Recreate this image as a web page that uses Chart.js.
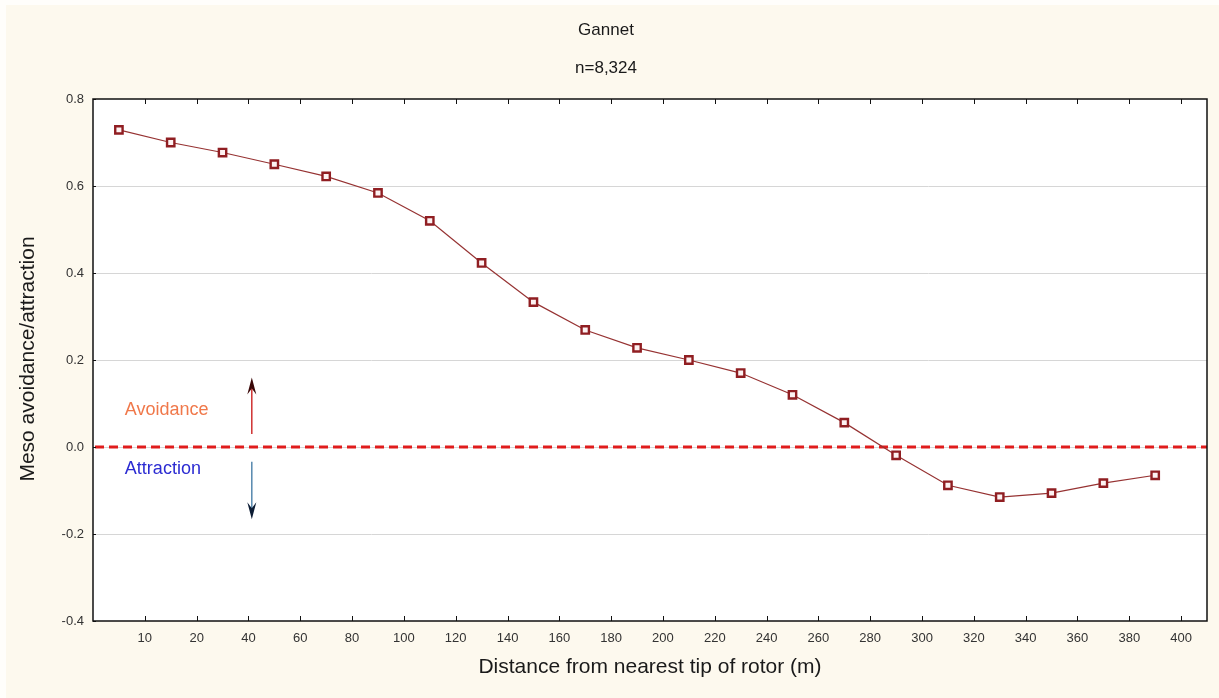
<!DOCTYPE html>
<html>
<head>
<meta charset="utf-8">
<style>
  html, body { margin: 0; padding: 0; background: #fffefb; }
  #wrap { position: relative; width: 1219px; height: 698px; }
  canvas { display: block; }
</style>
<script src="https://cdn.jsdelivr.net/npm/chart.js@4/dist/chart.umd.min.js"></script>
</head>
<body>
<div id="wrap"><canvas id="chart" width="1219" height="698"></canvas></div>
<script>
// Distance bins (m), placed on the linear x scale
const distances = [-10, 10, 30, 50, 70, 90, 110, 130, 150, 170, 190, 210, 230, 250, 270, 290, 310, 330, 350, 370, 390];
// Meso avoidance/attraction index per bin
const mesoIndex = [0.729, 0.700, 0.677, 0.650, 0.622, 0.584, 0.520, 0.423, 0.333, 0.269, 0.228, 0.200, 0.170, 0.120, 0.056, -0.019, -0.088, -0.115, -0.106, -0.083, -0.065];
// X tick positions and their printed labels
const xTickValues = [0, 20, 40, 60, 80, 100, 120, 140, 160, 180, 200, 220, 240, 260, 280, 300, 320, 340, 360, 380, 400];
const xTickLabels = ["10", "20", "40", "60", "80", "100", "120", "140", "160", "180", "200", "220", "240", "260", "280", "300", "320", "340", "360", "380", "400"];
// Y tick values
const yTickValues = [-0.4, -0.2, 0.0, 0.2, 0.4, 0.6, 0.8];

const FONT = '"Liberation Sans", Arial, sans-serif';

// Background, frame, ticks, reference line, labels and arrows
const decor = {
  id: 'decor',
  beforeDraw(chart) {
    const c = chart.ctx;
    c.save();
    c.fillStyle = '#fdf9ee';
    c.fillRect(6, 5, chart.width - 6, chart.height - 5);
    const a = chart.chartArea;
    c.fillStyle = '#ffffff';
    c.fillRect(a.left, a.top, a.right - a.left, a.bottom - a.top);
    c.restore();
  },
  beforeDatasetsDraw(chart) {
    const c = chart.ctx, a = chart.chartArea;
    const x = chart.scales.x, y = chart.scales.y;
    c.save();
    // zero reference line
    c.strokeStyle = '#e01c1c';
    c.lineWidth = 3;
    c.setLineDash([9, 5]);
    const y0 = y.getPixelForValue(0);
    c.beginPath();
    c.moveTo(a.left + 2, y0);
    c.lineTo(a.right, y0);
    c.stroke();
    c.setLineDash([]);

    // annotation texts
    c.font = '18px ' + FONT;
    c.textBaseline = 'middle';
    c.textAlign = 'left';
    c.fillStyle = '#f0784a';
    c.fillText('Avoidance', x.getPixelForValue(-7.7), y.getPixelForValue(0.085));
    c.fillStyle = '#2b2bd2';
    c.fillText('Attraction', x.getPixelForValue(-7.7), y.getPixelForValue(-0.05));

    // arrows
    const ax = x.getPixelForValue(41.3);
    drawArrow(c, ax, y.getPixelForValue(0.030), y.getPixelForValue(0.160), '#cc2222', '#3a0808');
    drawArrow(c, ax, y.getPixelForValue(-0.034), y.getPixelForValue(-0.166), '#4a7fa8', '#0c1c34');
    c.restore();
  },
  afterDraw(chart) {
    const c = chart.ctx, a = chart.chartArea;
    const x = chart.scales.x, y = chart.scales.y;
    c.save();
    c.strokeStyle = '#111';
    c.lineWidth = 1;
    // inward tick marks, top and bottom
    c.beginPath();
    xTickValues.forEach(v => {
      const px = Math.round(x.getPixelForValue(v)) + 0.5;
      c.moveTo(px, a.bottom); c.lineTo(px, a.bottom - 5);
      c.moveTo(px, a.top); c.lineTo(px, a.top + 5);
    });
    yTickValues.forEach(v => {
      const py = Math.round(y.getPixelForValue(v)) + 0.5;
      c.moveTo(a.left, py); c.lineTo(a.left + 3, py);
    });
    c.stroke();
    // frame
    c.lineWidth = 1.5;
    c.strokeRect(a.left, a.top, a.right - a.left, a.bottom - a.top);

    // titles
    c.fillStyle = '#1a1a1a';
    c.textAlign = 'center';
    c.textBaseline = 'middle';
    c.font = '17px ' + FONT;
    c.fillText('Gannet', 606, 30);
    c.fillText('n=8,324', 606, 68);
    c.font = '21px ' + FONT;
    c.fillText('Distance from nearest tip of rotor (m)', 650, 667);
    c.translate(28, 359);
    c.rotate(-Math.PI / 2);
    c.fillText('Meso avoidance/attraction', 0, 0);
    c.restore();
  }
};

function drawArrow(c, x, yFrom, yTo, shaft, head) {
  const dir = yTo < yFrom ? -1 : 1;
  const hl = 17, hw = 4.5, notch = 6;
  c.strokeStyle = shaft;
  c.lineWidth = 1.4;
  c.beginPath();
  c.moveTo(x, yFrom);
  c.lineTo(x, yTo - dir * (hl - notch));
  c.stroke();
  c.fillStyle = head;
  c.beginPath();
  c.moveTo(x, yTo);
  c.lineTo(x - hw, yTo - dir * hl);
  c.lineTo(x, yTo - dir * (hl - notch));
  c.lineTo(x + hw, yTo - dir * hl);
  c.closePath();
  c.fill();
}

new Chart(document.getElementById('chart'), {
  type: 'line',
  data: {
    datasets: [{
      data: distances.map((d, i) => ({ x: d, y: mesoIndex[i] })),
      borderColor: '#963232',
      borderWidth: 1.2,
      pointStyle: 'rect',
      pointRadius: 5.2,
      pointBorderWidth: 2.4,
      pointBorderColor: '#901e22',
      pointBackgroundColor: '#fdf2f2',
      tension: 0
    }]
  },
  options: {
    responsive: false,
    animation: false,
    events: [],
    layout: { padding: { left: 0, right: 12, top: 99, bottom: 0 } },
    plugins: { legend: { display: false }, tooltip: { enabled: false } },
    scales: {
      x: {
        type: 'linear',
        min: -20,
        max: 410,
        afterBuildTicks(s) { s.ticks = xTickValues.map(v => ({ value: v })); },
        afterFit(s) { s.height = 77; },
        grid: { display: false, drawTicks: false },
        border: { display: false },
        ticks: {
          padding: 10,
          color: '#333',
          font: { family: FONT, size: 13 },
          maxRotation: 0,
          autoSkip: false,
          callback(v) { const i = xTickValues.indexOf(v); return i >= 0 ? xTickLabels[i] : ''; }
        }
      },
      y: {
        min: -0.4,
        max: 0.8,
        afterBuildTicks(s) { s.ticks = yTickValues.map(v => ({ value: v })); },
        afterFit(s) { s.width = 93; },
        grid: {
          drawTicks: false,
          color(ctx) {
            const v = ctx.tick && ctx.tick.value;
            return (v === undefined || Math.abs(v - 0.8) < 1e-9 || Math.abs(v + 0.4) < 1e-9) ? 'rgba(0,0,0,0)' : '#d6d6d6';
          },
          lineWidth: 1
        },
        border: { display: false },
        ticks: {
          padding: 9,
          color: '#333',
          font: { family: FONT, size: 13 },
          callback(v) { return v.toFixed(1); }
        }
      }
    }
  },
  plugins: [decor]
});
</script>
</body>
</html>
